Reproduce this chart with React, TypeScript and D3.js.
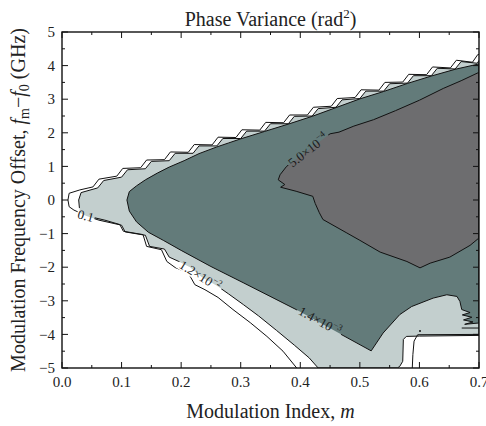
import React from "react";
import * as d3 from "d3";

type P = [number, number];

const W = 486;
const H = 426;

const xTicks = [0, 0.1, 0.2, 0.3, 0.4, 0.5, 0.6, 0.7];
const yTicks = [-5, -4, -3, -2, -1, 0, 1, 2, 3, 4, 5];

// 0.1 rad^2 contour (outermost line)
const outerBottom: P[] = [
  [0.394, -5.0], [0.371, -4.5], [0.344, -4.06], [0.316, -3.65], [0.287, -3.26], [0.262, -2.9],
  [0.24, -2.67], [0.223, -2.52], [0.212, -2.17], [0.19, -2.01], [0.176, -1.83], [0.167, -1.48],
  [0.142, -1.38], [0.136, -1.03], [0.103, -0.93], [0.097, -0.73], [0.072, -0.6], [0.055, -0.53],
  [0.035, -0.42], [0.02, -0.3], [0.012, -0.2],
];
const outerTop: P[] = [
  [0.01, 0.0], [0.012, 0.2], [0.03, 0.3],
  [0.052, 0.39], [0.062, 0.62], [0.092, 0.71], [0.102, 0.94],
  [0.132, 0.96], [0.142, 1.19], [0.172, 1.2], [0.182, 1.43],
  [0.212, 1.42], [0.222, 1.65], [0.252, 1.64], [0.262, 1.87],
  [0.292, 1.86], [0.302, 2.09], [0.332, 2.08], [0.342, 2.31],
  [0.372, 2.3], [0.382, 2.53], [0.412, 2.53], [0.422, 2.76],
  [0.452, 2.79], [0.462, 3.02], [0.492, 3.05], [0.502, 3.28],
  [0.532, 3.27], [0.542, 3.5], [0.572, 3.51], [0.582, 3.74],
  [0.612, 3.73], [0.622, 3.96], [0.652, 3.93], [0.662, 4.16],
  [0.689, 4.1], [0.698, 4.33], [0.7, 4.33],
];
const outerPocket: P[] = [
  [0.588, -5.0], [0.589, -4.6], [0.591, -4.2], [0.597, -4.01], [0.7, -4.0],
];

// 1.2e-2 rad^2 contour (light region boundary)
const lightArea: P[] = [
  [0.028, 0.0], [0.032, 0.22],
  [0.06, 0.36], [0.07, 0.58], [0.1, 0.68], [0.11, 0.9],
  [0.14, 0.93], [0.15, 1.15], [0.18, 1.17], [0.19, 1.39],
  [0.22, 1.39], [0.23, 1.61], [0.26, 1.61], [0.27, 1.83],
  [0.3, 1.83], [0.31, 2.05], [0.34, 2.05], [0.35, 2.27],
  [0.38, 2.27], [0.39, 2.49], [0.42, 2.5], [0.43, 2.72],
  [0.46, 2.76], [0.47, 2.98], [0.5, 3.02], [0.51, 3.24],
  [0.54, 3.24], [0.55, 3.46], [0.58, 3.48], [0.59, 3.7],
  [0.62, 3.7], [0.63, 3.92], [0.66, 3.9], [0.67, 4.12],
  [0.697, 4.07], [0.7, 4.15],
  [0.7, -4.03], [0.6, -4.05], [0.578, -4.06], [0.573, -4.15],
  [0.572, -4.8], [0.567, -4.95], [0.563, -5.0], [0.43, -5.0],
  [0.415, -4.7], [0.39, -4.32], [0.36, -3.88], [0.33, -3.45], [0.305, -3.12],
  [0.28, -2.8], [0.26, -2.55], [0.235, -2.3], [0.215, -2.0], [0.195, -1.82],
  [0.18, -1.7], [0.172, -1.46], [0.147, -1.38], [0.14, -1.05], [0.106, -0.95],
  [0.1, -0.75], [0.062, -0.6], [0.04, -0.47], [0.03, -0.38],
];

// 1.4e-3 rad^2 contour (teal region boundary)
const tealArea: P[] = [
  [0.109, 0.0], [0.113, 0.25], [0.125, 0.42], [0.14, 0.6], [0.16, 0.8],
  [0.18, 0.98], [0.205, 1.17], [0.23, 1.38], [0.26, 1.58], [0.28, 1.7],
  [0.3, 1.82], [0.34, 2.04], [0.38, 2.26], [0.42, 2.49], [0.46, 2.75],
  [0.5, 3.01], [0.54, 3.23], [0.58, 3.47], [0.62, 3.69], [0.66, 3.89], [0.7, 4.05],
  [0.7, -3.66], [0.676, -3.7], [0.69, -3.63], [0.674, -3.57], [0.688, -3.49],
  [0.672, -3.42], [0.685, -3.35], [0.671, -3.26], [0.668, -3.02], [0.663, -2.87],
  [0.646, -2.82], [0.623, -2.92], [0.587, -3.17], [0.567, -3.41], [0.539, -3.96],
  [0.519, -4.49], [0.45, -3.82], [0.393, -3.26], [0.304, -2.46], [0.25, -1.98],
  [0.2, -1.5], [0.17, -1.2], [0.145, -0.96], [0.125, -0.65], [0.113, -0.33],
];
const tealStray: P[] = [[0.671, -3.81], [0.7, -3.81]];

// 5.0e-4 rad^2 contour (dark region boundary)
const darkArea: P[] = [
  [0.7, 3.8], [0.67, 3.55], [0.64, 3.32], [0.6, 2.97], [0.56, 2.66], [0.523, 2.39],
  [0.49, 2.2], [0.465, 2.02], [0.45, 1.97], [0.415, 1.5], [0.377, 1.0], [0.366, 0.75],
  [0.363, 0.6], [0.374, 0.46], [0.367, 0.38], [0.393, 0.26], [0.421, 0.11], [0.425, -0.1],
  [0.432, -0.38], [0.438, -0.58], [0.477, -0.97], [0.5, -1.2], [0.534, -1.55],
  [0.579, -1.83], [0.601, -2.02], [0.618, -1.88], [0.651, -1.7], [0.685, -1.35], [0.7, -1.13],
];
const strayDots: P[] = [[0.601, -3.9]];

const levelNames = ["0.1", "1.2×10", "1.4×10", "5.0×10"];
const levelExps = ["", "−2", "−3", "−4"];
const labelAnchors: P[] = [[0.04, -0.47], [0.232, -2.25], [0.433, -3.6], [0.413, 1.49]];
const labelAngles = [15, 32, 29, -38];

const COLORS = { dark: "#6d6d6f", teal: "#637b7a", light: "#c3cfce" };
const SERIF = "'Liberation Serif', 'Times New Roman', Times, serif";

export default function App() {
  const left = 62, right = 479, top = 32, bottom = 368;
  const x = d3.scaleLinear().domain([0, 0.7]).range([left, right]);
  const y = d3.scaleLinear().domain([-5, 5]).range([bottom, top]);
  const line = d3.line<P>().x((d) => x(d[0])).y((d) => y(d[1]));
  const closed = (pts: P[]) => line(pts) + "Z";
  const outerLine = [...outerBottom, ...outerTop];

  const xMinor = d3.range(0.05, 0.7, 0.1);
  const yMinor = d3.range(-4.5, 5, 1);

  const labelW = (i: number) => (levelExps[i] ? 50 : 18);

  return (
    <svg width={W} height={H} style={{ position: "absolute", left: 0, top: 0, display: "block", background: "#fff" }}>
      <defs>
        <clipPath id="plotClip">
          <rect x={left} y={top} width={right - left} height={bottom - top} />
        </clipPath>
        <mask id="lblMask" maskUnits="userSpaceOnUse" x={0} y={0} width={W} height={H}>
          <rect x={0} y={0} width={W} height={H} fill="#fff" />
          {labelAnchors.map((a, i) => (
            <rect key={i} x={-labelW(i) / 2} y={-6} width={labelW(i)} height={12} fill="#000"
              transform={`translate(${x(a[0])},${y(a[1])}) rotate(${labelAngles[i]})`} />
          ))}
        </mask>
      </defs>
      <rect x={0} y={0} width={W} height={H} fill="#fff" />
      <g clipPath="url(#plotClip)">
        <path d={closed(lightArea)} fill={COLORS.light} />
        <path d={closed(tealArea)} fill={COLORS.teal} />
        <path d={closed(darkArea)} fill={COLORS.dark} />
        <g mask="url(#lblMask)" fill="none" stroke="#111" strokeWidth={1} strokeLinejoin="round">
          <path d={closed(lightArea)} />
          <path d={closed(tealArea)} />
          <path d={closed(darkArea)} />
          <path d={line(outerLine)!} />
          <path d={line(outerPocket)!} />
          <path d={line(tealStray)!} />
        </g>
        {strayDots.map((d, i) => (
          <circle key={i} cx={x(d[0])} cy={y(d[1])} r={1} fill="#111" />
        ))}
      </g>
      {labelAnchors.map((a, i) => (
        <text key={i} transform={`translate(${x(a[0])},${y(a[1])}) rotate(${labelAngles[i]})`}
          textAnchor="middle" dominantBaseline="central" fontFamily={SERIF} fontSize={13} fill="#1a1a1a">
          {levelNames[i]}
          {levelExps[i] ? <tspan dy={-4} fontSize={9}>{levelExps[i]}</tspan> : null}
        </text>
      ))}
      {/* ticks */}
      <g stroke="#111" strokeWidth={1}>
        {xTicks.map((t) => (
          <g key={"xt" + t}>
            <line x1={x(t)} x2={x(t)} y1={bottom} y2={bottom - 6} />
            <line x1={x(t)} x2={x(t)} y1={top} y2={top + 6} />
          </g>
        ))}
        {xMinor.map((t) => (
          <g key={"xm" + t}>
            <line x1={x(t)} x2={x(t)} y1={bottom} y2={bottom - 3} />
            <line x1={x(t)} x2={x(t)} y1={top} y2={top + 3} />
          </g>
        ))}
        {yTicks.map((t) => (
          <g key={"yt" + t}>
            <line x1={left} x2={left + 6} y1={y(t)} y2={y(t)} />
            <line x1={right} x2={right - 6} y1={y(t)} y2={y(t)} />
          </g>
        ))}
        {yMinor.map((t) => (
          <g key={"ym" + t}>
            <line x1={left} x2={left + 3} y1={y(t)} y2={y(t)} />
            <line x1={right} x2={right - 3} y1={y(t)} y2={y(t)} />
          </g>
        ))}
      </g>
      <rect x={left} y={top} width={right - left} height={bottom - top} fill="none" stroke="#111" strokeWidth={1.4} />
      {/* tick labels */}
      <g fontFamily={SERIF} fontSize={15} fill="#222">
        {xTicks.map((t) => (
          <text key={"xl" + t} x={x(t)} y={bottom + 19} textAnchor="middle">{d3.format(".1f")(t)}</text>
        ))}
        {yTicks.map((t) => (
          <text key={"yl" + t} x={left - 7} y={y(t)} dy="0.35em" textAnchor="end">{t < 0 ? "−" + Math.abs(t) : String(t)}</text>
        ))}
      </g>
      {/* titles */}
      <text x={(left + right) / 2} y={26} textAnchor="middle" fontFamily={SERIF} fontSize={20} fill="#222">
        Phase Variance (rad<tspan dy={-8} fontSize={13}>2</tspan><tspan dy={8}>)</tspan>
      </text>
      <text x={(left + right) / 2} y={418} textAnchor="middle" fontFamily={SERIF} fontSize={20} fill="#222">
        Modulation Index, <tspan fontStyle="italic">m</tspan>
      </text>
      <text transform={`translate(25,${(top + bottom) / 2}) rotate(-90)`} textAnchor="middle" fontFamily={SERIF} fontSize={20} fill="#222">
        Modulation Frequency Offset, <tspan fontStyle="italic">f</tspan>
        <tspan dy={4} fontSize={14}>m</tspan>
        <tspan dy={-4}>−</tspan>
        <tspan fontStyle="italic">f</tspan>
        <tspan dy={4} fontSize={14}>0</tspan>
        <tspan dy={-4}> (GHz)</tspan>
      </text>
    </svg>
  );
}
